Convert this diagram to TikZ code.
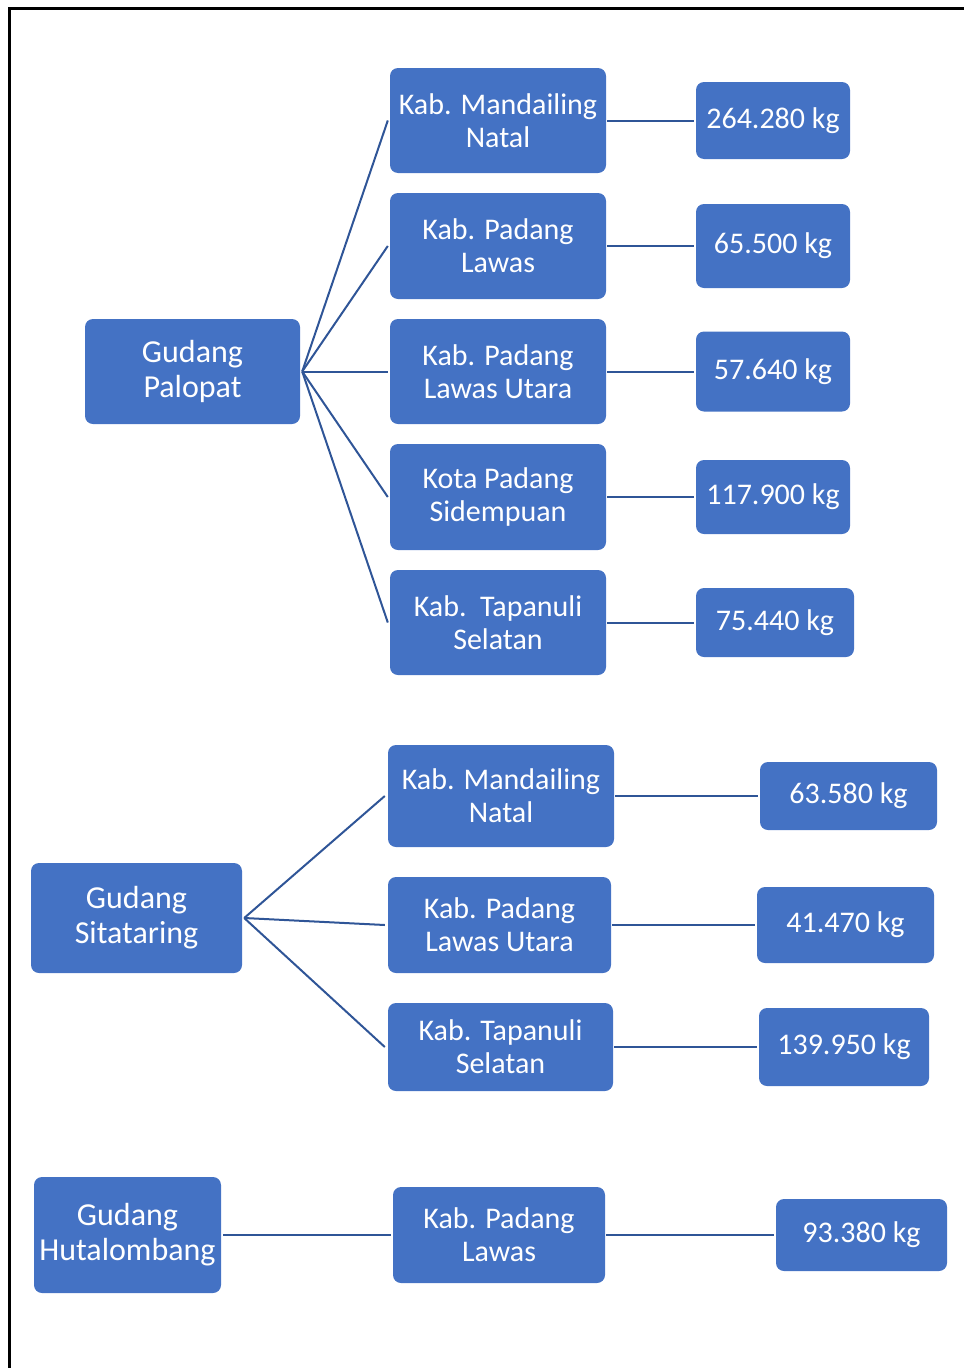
\documentclass[tikz,border=0pt]{standalone}
\usepackage{fontspec}
\setmainfont{Carlito}
\usepackage{tikz}
\usetikzlibrary{positioning}
\definecolor{cbox}{HTML}{4472C4}
\definecolor{cline}{HTML}{2F5597}

\begin{document}
\begin{tikzpicture}[x=1pt, y=-1pt,
  kotak/.style={fill=cbox, draw=none, rounded corners=8pt, text=white, align=center,
    inner sep=0pt, font=\fontsize{30}{33}\selectfont},
  gudang/.style={kotak, font=\fontsize{32}{35}\selectfont},
  garis/.style={draw=cline, line width=2pt}]
  \useasboundingbox (0,0) rectangle (964,1368);
  % frame (top and left only)
  \draw[line width=3pt] (9.5,1368) -- (9.5,8) -- (964,8);

  % Gudang Palopat
  \node[gudang, minimum width=215pt, minimum height=105pt] (gudA) at (192.5,371.5) {Gudang\\Palopat};
  \node[kotak, minimum width=216pt, minimum height=105pt] (kabA1) at (498,120.5) {Kab. Mandailing\\Natal};
  \node[kotak, minimum width=216pt, minimum height=106pt] (kabA2) at (498,246) {Kab. Padang\\Lawas};
  \node[kotak, minimum width=216pt, minimum height=105pt] (kabA3) at (498,371.5) {Kab. Padang\\Lawas Utara};
  \node[kotak, minimum width=216pt, minimum height=106pt] (kabA4) at (498,497) {Kota Padang\\Sidempuan};
  \node[kotak, minimum width=216pt, minimum height=105pt] (kabA5) at (498,622.5) {Kab.\ \ Tapanuli\\Selatan};
  \node[kotak, minimum width=154pt, minimum height=77pt] (valA1) at (773,120.5) {264.280 kg};
  \node[kotak, minimum width=154pt, minimum height=84pt] (valA2) at (773,246) {65.500 kg};
  \node[kotak, minimum width=154pt, minimum height=80pt] (valA3) at (773,371.5) {57.640 kg};
  \node[kotak, minimum width=154pt, minimum height=74pt] (valA4) at (773,497) {117.900 kg};
  \node[kotak, minimum width=158pt, minimum height=69pt] (valA5) at (775,622.5) {75.440 kg};
  \foreach \i in {1,...,5}{
    \draw[garis] ([xshift=2pt]gudA.east) -- ([xshift=-2pt]kabA\i.west);
    \draw[garis] ([xshift=1pt]kabA\i.east) -- ([xshift=-2pt]valA\i.west);
  }

  % Gudang Sitataring
  \node[gudang, minimum width=211pt, minimum height=110pt] (gudB) at (136.5,918) {Gudang\\Sitataring};
  \node[kotak, minimum width=226pt, minimum height=102pt] (kabB1) at (501,796) {Kab. Mandailing\\Natal};
  \node[kotak, minimum width=223pt, minimum height=96pt] (kabB2) at (499.5,925) {Kab. Padang\\Lawas Utara};
  \node[kotak, minimum width=225pt, minimum height=88pt] (kabB3) at (500.5,1047) {Kab. Tapanuli\\Selatan};
  \node[kotak, minimum width=177pt, minimum height=68pt] (valB1) at (848.5,796) {63.580 kg};
  \node[kotak, minimum width=177pt, minimum height=76pt] (valB2) at (845.5,925) {41.470 kg};
  \node[kotak, minimum width=170pt, minimum height=78pt] (valB3) at (844,1047) {139.950 kg};
  \foreach \i in {1,2,3}{
    \draw[garis] ([xshift=2pt]gudB.east) -- ([xshift=-3pt]kabB\i.west);
    \draw[garis] ([xshift=1pt]kabB\i.east) -- ([xshift=-2pt]valB\i.west);
  }

  % Gudang Hutalombang
  \node[gudang, minimum width=187pt, minimum height=116pt] (gudC) at (127.5,1235) {Gudang\\Hutalombang};
  \node[kotak, minimum width=212pt, minimum height=96pt] (kabC1) at (499,1235) {Kab. Padang\\Lawas};
  \node[kotak, minimum width=171pt, minimum height=72pt] (valC1) at (861.5,1235) {93.380 kg};
  \draw[garis] ([xshift=2pt]gudC.east) -- ([xshift=-2pt]kabC1.west);
  \draw[garis] ([xshift=1pt]kabC1.east) -- ([xshift=-2pt]valC1.west);
\end{tikzpicture}
\end{document}
